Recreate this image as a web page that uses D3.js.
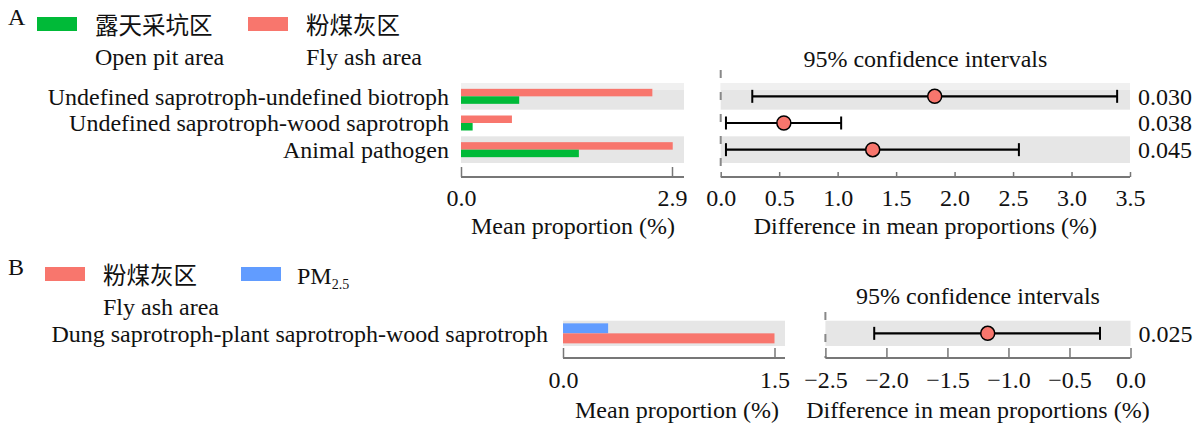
<!DOCTYPE html>
<html><head><meta charset="utf-8">
<script src="https://cdn.jsdelivr.net/npm/d3@7"></script>
<style>
body{margin:0;background:#fff;}
svg text{font-family:"Liberation Serif","Times New Roman",serif;fill:#111;}
</style></head><body>
<svg id="chart" width="1200" height="430"></svg>
<script>
// ---------- data ----------
const catsA = ["Undefined saprotroph-undefined biotroph","Undefined saprotroph-wood saprotroph","Animal pathogen"];
const flyAshA = [2.63, 0.70, 2.91];
const openPitA = [0.80, 0.16, 1.62];
const diffA = [1.83, 0.54, 1.30];
const ciLowA = [0.27, 0.045, 0.045];
const ciHighA = [3.39, 1.03, 2.55];
const pA = ["0.030","0.038","0.045"];
const barTicksA = [0, 2.9];
const ciTicksA = [0,0.5,1.0,1.5,2.0,2.5,3.0,3.5];

const catsB = ["Dung saprotroph-plant saprotroph-wood saprotroph"];
const pm25B = [0.32];
const flyAshB = [1.50];
const diffB = [-1.17];
const ciLowB = [-2.10];
const ciHighB = [-0.25];
const pB = ["0.025"];
const barTicksB = [0, 1.5];
const ciTicksB = [-2.5,-2.0,-1.5,-1.0,-0.5,0.0];

const RED="#f8766d", GREEN="#00ba38", BLUE="#619cff";
const svg = d3.select("#chart");
const fmt = d3.format(".1f");
const CJK = '"Noto Sans CJK SC","Noto Sans CJK JP",sans-serif';

function legend(g, letter, items){
  g.append("text").attr("x",8).attr("y",25).attr("font-size",24).text(letter);
  items.forEach(it=>{
    g.append("rect").attr("x",it.x).attr("y",17).attr("width",40).attr("height",14).attr("fill",it.color);
    if(it.cn){
      g.append("text").attr("x",it.x+58).attr("y",34).attr("font-size",23.5)
        .style("font-family",CJK).text(it.cn);
    }
    if(it.en){
      g.append("text").attr("x",it.x+58).attr("y",65).attr("font-size",24).text(it.en);
    }
    if(it.pm){
      const t=g.append("text").attr("x",it.x+56).attr("y",34).attr("font-size",24);
      t.append("tspan").text("PM");
      t.append("tspan").attr("font-size",14).attr("dy",5).text("2.5");
    }
  });
}

function panel(o){
  const g = svg.append("g").attr("transform",`translate(0,${o.dy})`);
  legend(g, o.letter, o.legend);
  const y = d3.scaleBand().domain(o.cats).range(o.bandRange);
  const xb = d3.scaleLinear().domain(o.barDomain).range(o.barRange);
  const xc = d3.scaleLinear().domain(o.ciDomain).range(o.ciRange);
  // backgrounds
  o.cats.forEach((c,i)=>{
    if(i%2===0){
      g.append("rect").attr("x",o.barRange[0]).attr("y",y(c)).attr("width",o.barBgEnd-o.barRange[0]).attr("height",y.bandwidth()).attr("fill","#e6e6e6");
      g.append("rect").attr("x",o.ciRange[0]).attr("y",y(c)).attr("width",o.ciRange[1]-o.ciRange[0]).attr("height",y.bandwidth()).attr("fill","#e6e6e6");
      if(o.lightTop && i===0){
        g.append("rect").attr("x",o.barRange[0]).attr("y",y(c)).attr("width",o.barBgEnd-o.barRange[0]).attr("height",7).attr("fill","#f0f0f0");
        g.append("rect").attr("x",o.ciRange[0]).attr("y",y(c)).attr("width",o.ciRange[1]-o.ciRange[0]).attr("height",7).attr("fill","#f0f0f0");
      }
    }
  });
  // dashed zero/left line
  g.append("line").attr("x1",o.ciRange[0]).attr("x2",o.ciRange[0]).attr("y1",o.dashTop).attr("y2",o.axisY)
    .attr("stroke","#888").attr("stroke-width",2).attr("stroke-dasharray","8,14");
  // labels
  o.cats.forEach(c=>{
    g.append("text").attr("x",o.labelX).attr("y",y(c)+y.bandwidth()/2).attr("dy","0.35em")
      .attr("text-anchor","end").attr("font-size",24).text(c);
  });
  // bars
  const bh=o.barH;
  o.series.forEach((s,k)=>{
    g.selectAll(null).data(s.values).enter().append("rect")
      .attr("x",xb(0)).attr("y",(d,i)=>y(o.cats[i])+y.bandwidth()/2-bh+k*bh)
      .attr("width",d=>xb(d)-xb(0)).attr("height",bh).attr("fill",s.color);
  });
  // axes
  const axB = g.append("g").attr("transform",`translate(0,${o.axisY})`)
    .call(d3.axisBottom(xb).tickValues(o.barTicks).tickFormat(fmt).tickSizeInner(-o.barTickLen).tickSizeOuter(0).tickPadding(o.tickPad));
  axB.select(".domain").remove();
  axB.append("line").attr("x1",o.barRange[0]).attr("x2",o.barBgEnd).attr("stroke","#777").attr("stroke-width",2);
  axB.selectAll(".tick line").attr("stroke","#777").attr("stroke-width",1.5);
  axB.selectAll("text").attr("font-size",24).attr("fill","#111").style("font-family",'"Liberation Serif",serif');
  const axC = g.append("g").attr("transform",`translate(0,${o.axisY})`)
    .call(d3.axisBottom(xc).tickValues(o.ciTicks).tickFormat(fmt).tickSizeInner(-o.ciTickLen).tickSizeOuter(0).tickPadding(o.tickPad));
  axC.select(".domain").remove();
  axC.append("line").attr("x1",o.ciRange[0]).attr("x2",o.ciRange[1]).attr("stroke","#777").attr("stroke-width",2);
  axC.selectAll(".tick line").attr("stroke","#777").attr("stroke-width",1.5);
  axC.selectAll("text").attr("font-size",24).attr("fill","#111").style("font-family",'"Liberation Serif",serif');
  // titles
  g.append("text").attr("x",o.barTitleX).attr("y",o.axisY+o.titleOff).attr("text-anchor","middle").attr("font-size",24).text("Mean proportion (%)");
  g.append("text").attr("x",(o.ciRange[0]+o.ciRange[1])/2).attr("y",o.axisY+o.titleOff).attr("text-anchor","middle").attr("font-size",24).text("Difference in mean proportions (%)");
  g.append("text").attr("x",(o.ciRange[0]+o.ciRange[1])/2).attr("y",o.ciTitleY).attr("text-anchor","middle").attr("font-size",24).text("95% confidence intervals");
  // CI
  o.cats.forEach((c,i)=>{
    const cy=y(c)+y.bandwidth()/2;
    g.append("line").attr("x1",xc(o.lo[i])).attr("x2",xc(o.hi[i])).attr("y1",cy).attr("y2",cy).attr("stroke","#000").attr("stroke-width",2.2);
    [o.lo[i],o.hi[i]].forEach(v=>g.append("line").attr("x1",xc(v)).attr("x2",xc(v)).attr("y1",cy-6.5).attr("y2",cy+6.5).attr("stroke","#000").attr("stroke-width",2));
    g.append("circle").attr("cx",xc(o.diff[i])).attr("cy",cy).attr("r",7).attr("fill",RED).attr("stroke","#000").attr("stroke-width",1.5);
    g.append("text").attr("x",o.ciRange[1]+8).attr("y",cy).attr("dy","0.35em").attr("font-size",24).text(o.p[i]);
  });
}

panel({dy:0, letter:"A",
  legend:[{x:37,color:GREEN,cn:"露天采坑区",en:"Open pit area"},{x:248,color:RED,cn:"粉煤灰区",en:"Fly ash area"}],
  cats:catsA, bandRange:[83,163], barDomain:[0,2.9], barRange:[461,672], barBgEnd:684,
  ciDomain:[0,3.5], ciRange:[720.7,1130], axisY:177, labelX:449, barH:7.5, lightTop:true,
  series:[{values:flyAshA,color:RED},{values:openPitA,color:GREEN}],
  barTicks:barTicksA, ciTicks:ciTicksA, barTickLen:10, ciTickLen:5, dashTop:70, tickPad:12, titleOff:57,
  barTitleX:573, ciTitleY:67, diff:diffA, lo:ciLowA, hi:ciHighA, p:pA});

panel({dy:250, letter:"B",
  legend:[{x:45,color:RED,cn:"粉煤灰区",en:"Fly ash area"},{x:241,color:BLUE,pm:true}],
  cats:catsB, bandRange:[70.7,96], barDomain:[0,1.5], barRange:[563,774.5], barBgEnd:785,
  ciDomain:[-2.5,0], ciRange:[825.4,1130.5], axisY:108, labelX:548, barH:10, lightTop:false,
  series:[{values:pm25B,color:BLUE},{values:flyAshB,color:RED}],
  barTicks:barTicksB, ciTicks:ciTicksB, barTickLen:10, ciTickLen:10, dashTop:62, tickPad:13, titleOff:60,
  barTitleX:677, ciTitleY:54, diff:diffB, lo:ciLowB, hi:ciHighB, p:pB});
</script>
</body></html>
